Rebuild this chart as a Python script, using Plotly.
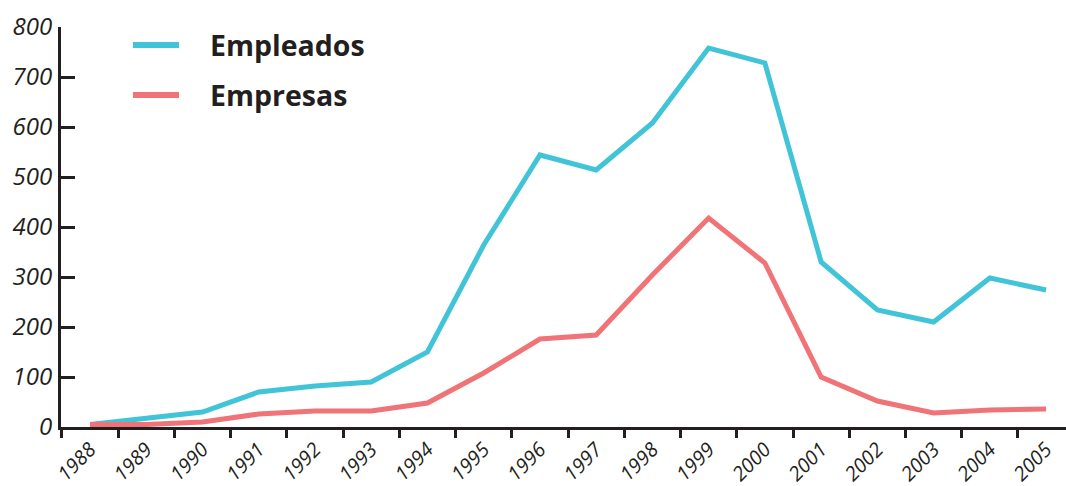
import plotly.graph_objects as go

years = ["1988","1989","1990","1991","1992","1993","1994","1995","1996","1997",
         "1998","1999","2000","2001","2002","2003","2004","2005"]
empleados = [5, 18, 30, 70, 82, 90, 150, 364, 544, 514, 608, 758, 728, 330, 234, 210, 298, 274]
empresas = [5, 5, 10, 26, 32, 32, 48, 108, 176, 184, 304, 418, 328, 100, 52, 28, 34, 36]
y_ticks = [0, 100, 200, 300, 400, 500, 600, 700, 800]

BLUE = "#41C4D8"
RED = "#F07377"
INK = "#231F20"

fig = go.Figure()
fig.add_trace(go.Scatter(x=years, y=empleados, mode="lines", name="Empleados",
                         line=dict(color=BLUE, width=5), showlegend=False))
fig.add_trace(go.Scatter(x=years, y=empresas, mode="lines", name="Empresas",
                         line=dict(color=RED, width=5), showlegend=False))

# custom legend (swatch + label)
for i, (name, col) in enumerate([("Empleados", BLUE), ("Empresas", RED)]):
    yp = 0.955 - i * 0.125
    fig.add_shape(type="line", xref="paper", yref="paper",
                  x0=0.0716, x1=0.1174, y0=yp, y1=yp,
                  line=dict(color=col, width=6))
    fig.add_annotation(xref="paper", yref="paper", x=0.146, y=yp, text=name,
                       showarrow=False, xanchor="left", yanchor="middle",
                       font=dict(family="Open Sans", size=28.5, color=INK, weight="bold"))

fig.update_layout(
    width=1066, height=486,
    margin=dict(l=61, r=0, t=27, b=59),
    paper_bgcolor="white", plot_bgcolor="white",
    xaxis=dict(type="category", range=[-0.516, 17.354], tickson="boundaries",
               ticks="outside", ticklen=8, tickwidth=3, tickcolor=INK,
               showline=True, linewidth=3, linecolor=INK, showgrid=False,
               tickangle=-45, zeroline=False, automargin=False,
               tickfont=dict(family="Open Sans", size=20, color=INK, style="italic")),
    yaxis=dict(range=[0, 800], tickvals=y_ticks, ticks="inside", ticklen=14,
               tickwidth=3, tickcolor=INK, showline=True, linewidth=3,
               linecolor=INK, showgrid=False, zeroline=False, ticklabelstandoff=1,
               automargin=False,
               tickfont=dict(family="Open Sans", size=24, color=INK, style="italic")),
)

fig.write_html("out.html", config={"displayModeBar": False},
               post_script="document.body.style.margin='0';document.body.style.overflow='hidden';")
